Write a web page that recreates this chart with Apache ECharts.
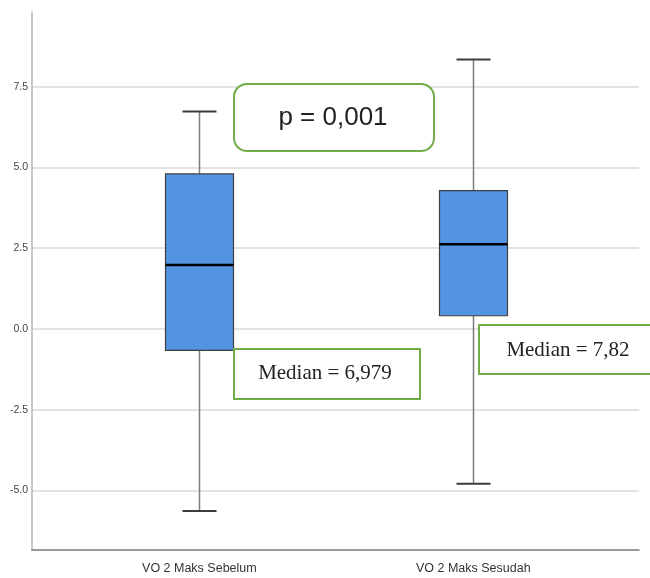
<!DOCTYPE html>
<html>
<head>
<meta charset="utf-8">
<script src="https://cdn.jsdelivr.net/npm/echarts@6/dist/echarts.min.js"></script>
<style>
  html, body { margin: 0; padding: 0; background: #fff; }
  #chart { width: 650px; height: 578px; }
</style>
</head>
<body>
<div id="chart"></div>
<script>
// Groups on the horizontal axis
const categories = ['VO 2 Maks Sebelum', 'VO 2 Maks Sesudah'];
const positions = [1, 2];

// Five-number summaries: [min, Q1, median, Q3, max]
const sebelum = [-5.63, -0.66, 1.98, 4.80, 6.73];
const sesudah = [-4.79, 0.41, 2.62, 4.28, 8.34];

// Y-axis tick values and their labels
const yTicks = [-5, -2.5, 0, 2.5, 5, 7.5];
const yTickLabels = ['-5.0', '-2.5', '0.0', '2.5', '5.0', '7.5'];

// Annotation texts
const pText = 'p = 0,001';
const medianTexts = ['Median = 6,979', 'Median = 7,82'];

const summaries = [sebelum, sesudah];
const boxData = summaries.map((s, i) => [positions[i]].concat(s));

const chart = echarts.init(document.getElementById('chart'), null, { renderer: 'canvas' });

const green = '#70AD47';
const labelFont = "'Liberation Sans', Arial, sans-serif";
const BOX_W = 68;
const CAP_W = 34;

// Box-and-whisker glyph: whisker stem, end caps, IQR box and a bold median bar
function renderBox(params, api) {
  const x = api.value(0);
  const lo = api.coord([x, api.value(1)]);
  const q1 = api.coord([x, api.value(2)]);
  const md = api.coord([x, api.value(3)]);
  const q3 = api.coord([x, api.value(4)]);
  const hi = api.coord([x, api.value(5)]);
  const cx = Math.round(lo[0]) + 0.5;
  const stem = { stroke: '#7d7d7d', lineWidth: 1.5 };
  const cap = { stroke: '#3c3c3c', lineWidth: 2 };
  return {
    type: 'group',
    children: [
      { type: 'line', shape: { x1: cx, y1: lo[1], x2: cx, y2: q1[1] }, style: stem },
      { type: 'line', shape: { x1: cx, y1: q3[1], x2: cx, y2: hi[1] }, style: stem },
      { type: 'line', shape: { x1: cx - CAP_W / 2, y1: lo[1], x2: cx + CAP_W / 2, y2: lo[1] }, style: cap },
      { type: 'line', shape: { x1: cx - CAP_W / 2, y1: hi[1], x2: cx + CAP_W / 2, y2: hi[1] }, style: cap },
      {
        type: 'rect',
        shape: { x: cx - BOX_W / 2, y: q3[1], width: BOX_W, height: q1[1] - q3[1] },
        style: { fill: '#5294E2', stroke: '#3f3f3f', lineWidth: 1.2 }
      },
      {
        type: 'line',
        shape: { x1: cx - BOX_W / 2, y1: md[1], x2: cx + BOX_W / 2, y2: md[1] },
        style: { stroke: '#000', lineWidth: 2.5 }
      }
    ]
  };
}

// Annotation boxes sit above the plot, so every element gets a high z
const Z = 100;
const serifFont = "21px 'Liberation Serif', 'Times New Roman', serif";

chart.setOption({
  animation: false,
  backgroundColor: '#ffffff',
  grid: { left: 32, right: 11, top: 12, bottom: 28, containLabel: false },
  xAxis: {
    type: 'value',
    min: 0.389,
    max: 2.605,
    splitLine: { show: false },
    axisTick: { show: false },
    axisLine: { show: true, onZero: false, lineStyle: { color: '#7a7a7a', width: 1.5 } },
    axisLabel: {
      customValues: positions,
      formatter: v => categories[positions.indexOf(v)] || '',
      margin: 12,
      fontFamily: labelFont,
      fontSize: 12.5,
      color: '#333'
    }
  },
  yAxis: {
    type: 'value',
    min: -6.84,
    max: 9.81,
    axisLine: { show: true, lineStyle: { color: '#b4b4b4', width: 1.5 } },
    axisTick: { show: false, customValues: yTicks },
    splitLine: { show: true, lineStyle: { color: '#d9d9d9', width: 1.5 } },
    axisLabel: {
      customValues: yTicks,
      formatter: v => yTickLabels[yTicks.indexOf(v)] || '',
      margin: 4,
      fontFamily: labelFont,
      fontSize: 10.5,
      color: '#444'
    }
  },
  series: [
    {
      type: 'custom',
      data: boxData,
      encode: { x: 0, y: [1, 2, 3, 4, 5] },
      renderItem: renderBox,
      z: 2
    }
  ],
  graphic: [
    {
      type: 'rect', z: Z,
      shape: { x: 234, y: 84, width: 200, height: 67, r: 13 },
      style: { fill: '#fff', stroke: green, lineWidth: 2 }
    },
    {
      type: 'text', z: Z + 1,
      x: 333, y: 118,
      style: {
        text: pText, fill: '#222',
        font: "26px 'Liberation Sans', Arial, sans-serif",
        textAlign: 'center', textVerticalAlign: 'middle'
      }
    },
    {
      type: 'rect', z: Z,
      shape: { x: 234, y: 349, width: 186, height: 50 },
      style: { fill: '#fff', stroke: green, lineWidth: 2 }
    },
    {
      type: 'text', z: Z + 1,
      x: 325, y: 373,
      style: {
        text: medianTexts[0], fill: '#222', font: serifFont,
        textAlign: 'center', textVerticalAlign: 'middle'
      }
    },
    {
      type: 'rect', z: Z,
      shape: { x: 479, y: 325, width: 190, height: 49 },
      style: { fill: '#fff', stroke: green, lineWidth: 2 }
    },
    {
      type: 'text', z: Z + 1,
      x: 568, y: 350,
      style: {
        text: medianTexts[1], fill: '#222', font: serifFont,
        textAlign: 'center', textVerticalAlign: 'middle'
      }
    }
  ]
});
</script>
</body>
</html>
